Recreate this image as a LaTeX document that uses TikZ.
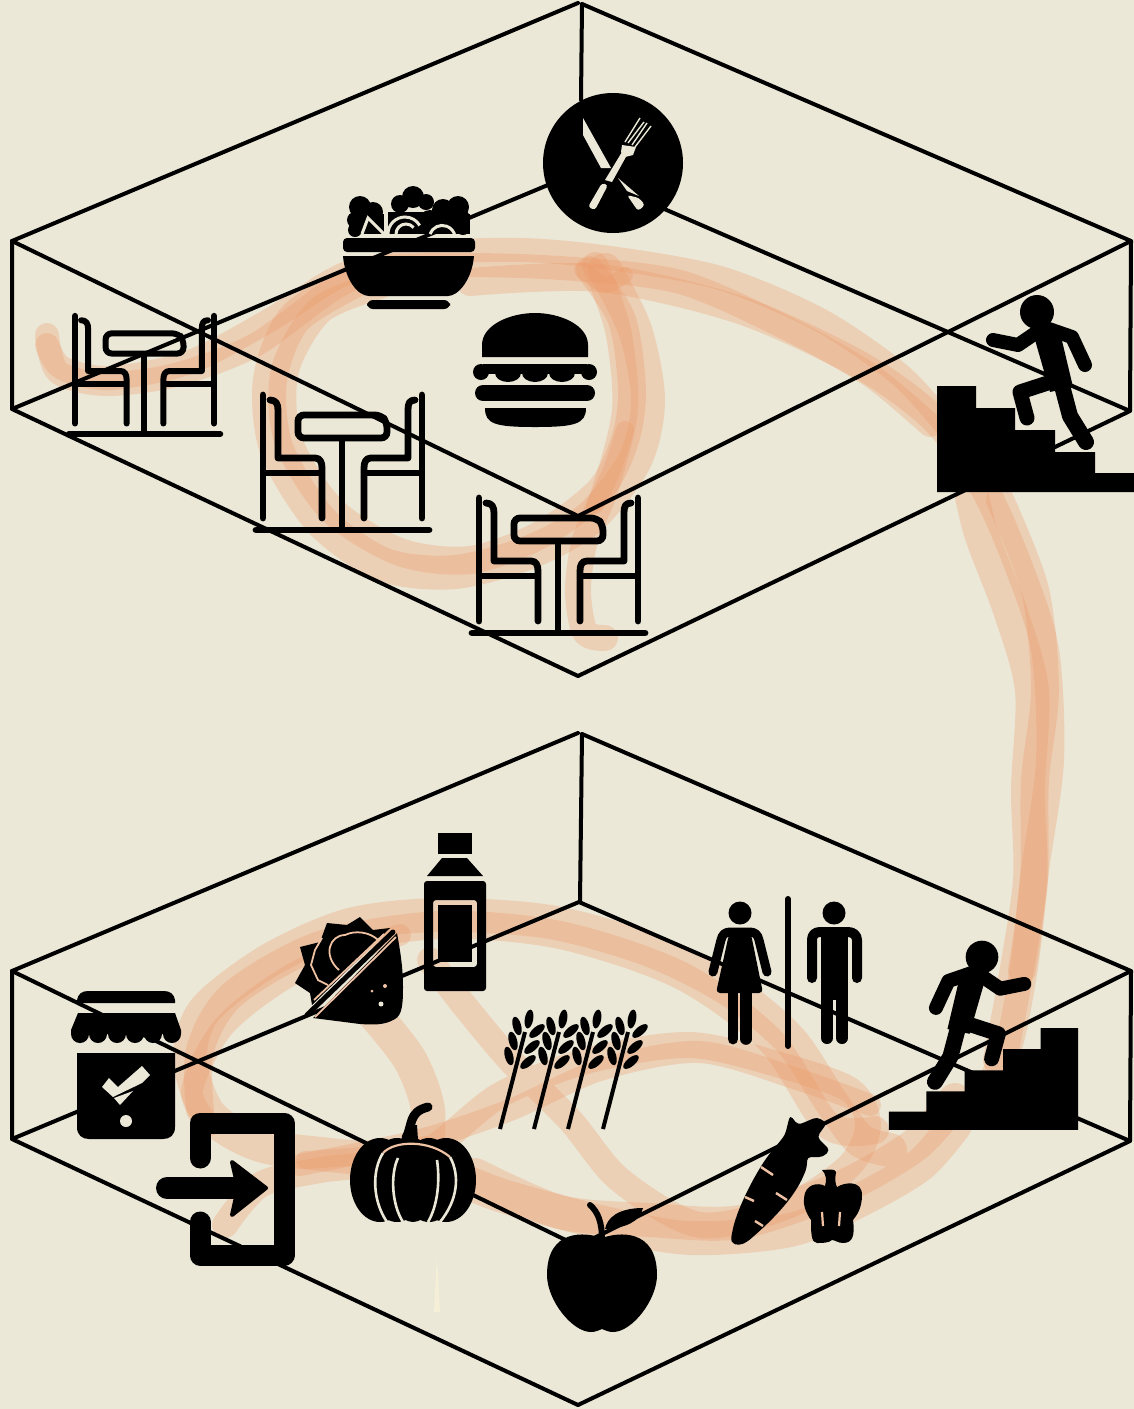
\documentclass[tikz,border=0pt]{standalone}
\definecolor{papercream}{HTML}{EBE8D8}
\definecolor{paintorange}{HTML}{EE9A68}
\definecolor{paleorange}{HTML}{EFC2A4}
\definecolor{palesliver}{HTML}{F5EFD8}
\tikzset{
  framelines/.style={line width=2pt, line cap=round, line join=round},
  paintstroke/.style={draw=paintorange, opacity=.3, line width=17pt, line cap=round, line join=round},
  orangecut/.style={draw=paleorange, line width=1.1pt, line cap=butt},
  creamcut/.style={draw=papercream, line width=1.3pt, line cap=butt},
  tableset/.pic={
    % Left chair
    \draw[line cap=round] (-80,-135) -- (-80,-12);
    \draw[line cap=round, line join=round] (-73,-130) .. controls (-67,-130) and (-65,-126) .. (-65,-120) -- (-65,-72) -- (-28,-72) .. controls (-23,-72) and (-21,-68) .. (-21,-62) -- (-21,-12);
    \draw (-80,-57) -- (-21,-57);
    % Right chair
    \draw[line cap=round] (79,-135) -- (79,-12);
    \draw[line cap=round, line join=round] (72,-130) .. controls (66,-130) and (65,-126) .. (65,-120) -- (65,-72) -- (28,-72) .. controls (23,-72) and (21,-68) .. (21,-62) -- (21,-12);
    \draw (79,-57) -- (21,-57);
    % Table
    \draw[rounded corners=3pt] (-45,-115) -- (38,-115) -- (44,-108) -- (44,-92) -- (-45,-92) -- cycle;
    \draw (-1,-92) -- (-1,0);
    \draw[line cap=round] (-87,0) -- (86,0);
  },
  stairrunner/.pic={
    % Stairs
    \fill (-100,74) -- (-61,74) -- (-61,96) -- (-22,96) -- (-22,118) -- (18,118) -- (18,140) -- (58,140) -- (58,161) -- (97,161) -- (97,180) -- (-100,180) -- cycle;
    % Runner
    \fill (0,0) circle (17);
    \fill (-6,14) -- (22,16) -- (36,75) -- (13,80) -- cycle;
    \draw[line width=7pt, line cap=round, line join=round] (-44,28) -- (-19,33) -- (3,18);
    \draw[line width=7pt, line cap=round, line join=round] (6,15) -- (35,25) -- (48,53);
    \draw[line width=7.5pt, line cap=round, line join=round] (20,68) -- (-17,80) -- (-10,106);
    \draw[line width=8pt, line cap=round, line join=round] (24,70) -- (33,104) -- (49,130);
  },
  wheatstalk/.pic={
    \draw[line width=2pt] (0,0) -- (25,-97);
    \foreach \gx/\gy/\ga in {29/-110/-10, 17/-103/15, 37/-98/-50, 13/-88/15, 32/-82/-50, 9/-73/15, 28/-67/-50}
      \fill[shift={(\gx,\gy)}, rotate=\ga] (0,0) ellipse (4.2 and 9.5);
  }
}
\begin{document}
\begin{tikzpicture}[x=.5pt,y=-.5pt]

  % Background
  \fill[papercream] (0,0) rectangle (1134,1409);
  \useasboundingbox (0,0) rectangle (1134,1409);

  % Paint trail, upper floor
  \draw[paintstroke, line width=12pt] plot[smooth] coordinates {(47,335) (58,372) (105,384) (175,375) (255,345) (340,285) (420,255) (520,250) (610,258) (720,278) (820,320) (900,375) (950,430)};
  \draw[paintstroke, line width=12pt] plot[smooth] coordinates {(47,345) (62,368) (110,378) (190,362) (270,320) (350,272) (440,265) (560,268) (680,282) (790,330) (870,375) (930,425)};
  \draw[paintstroke, line width=14pt] plot[smooth] coordinates {(470,282) (600,278) (740,310) (860,365) (935,420) (985,490) (1020,570) (1045,650) (1050,760) (1035,870) (1025,960) (1010,1040) (990,1085)};
  \draw[paintstroke] plot[smooth] coordinates {(965,460) (980,530) (1010,610) (1032,690) (1028,790) (1030,880) (1015,980) (1000,1060)};
  \draw[paintstroke, line width=14pt] plot[smooth] coordinates {(1000,500) (1035,590) (1045,690) (1035,780) (1034,880) (1022,970)};
  \draw[paintstroke] plot[smooth] coordinates {(360,278) (295,318) (270,380) (277,450) (322,522) (385,565) (455,572) (530,552) (590,518) (635,460) (648,400) (635,330) (605,270)};
  \draw[paintstroke, line width=14pt] plot[smooth] coordinates {(380,285) (320,310) (285,370) (288,440) (332,510) (400,552) (470,560) (540,535) (600,490) (625,440) (632,390) (622,320) (590,270)};
  \draw[paintstroke, line width=13pt] plot[smooth] coordinates {(595,265) (618,330) (625,410) (605,490) (585,540) (578,590) (585,632) (605,638)};
  \draw[paintstroke, line width=8pt] plot[smooth] coordinates {(582,270) (605,285) (625,275)};
  \draw[paintstroke, line width=9pt] plot[smooth] coordinates {(625,430) (612,470) (595,505)};

  % Paint trail, lower floor
  \draw[paintstroke] plot[smooth] coordinates {(955,1125) (920,1165) (860,1200) (790,1230) (690,1238) (600,1222) (500,1195) (420,1165) (330,1155) (260,1145) (210,1115) (190,1060) (205,1010) (270,960) (350,925) (440,915) (550,922) (650,950) (730,990) (790,1040) (830,1100) (860,1140) (890,1150)};
  \draw[paintstroke, line width=13pt] plot[smooth] coordinates {(225,1225) (260,1185) (320,1170) (420,1155) (500,1095) (590,1060) (690,1045) (780,1065) (850,1090) (868,1125) (850,1165) (790,1205) (700,1225) (620,1180) (570,1120) (510,1060) (460,1000) (430,960)};
  \draw[paintstroke] plot[smooth] coordinates {(375,1015) (410,1060) (428,1110) (425,1170)};
  \draw[paintstroke] plot[smooth] coordinates {(475,1175) (560,1212) (650,1220) (740,1222) (840,1188) (915,1145) (955,1100)};
  \draw[paintstroke, line width=14pt] plot[smooth] coordinates {(200,1110) (200,1050) (232,995) (320,945) (440,925) (560,935) (680,975) (770,1040) (828,1125) (875,1130)};
  \draw[paintstroke, line width=11pt] plot[smooth] coordinates {(300,1165) (420,1140) (510,1110) (600,1070) (700,1052) (800,1080) (870,1105)};
  \draw[paintstroke, line width=11pt] plot[smooth] coordinates {(210,1125) (192,1090) (225,1025) (300,970) (400,935)};
  \draw[paintstroke, line width=9pt] plot[smooth] coordinates {(305,1160) (370,1155) (425,1145)};

  % Pale sliver
  \fill[palesliver] (437,1255) -- (440,1312) -- (434,1312) -- cycle;

  % Upper room
  \draw[framelines] (12,241) -- (578,3);
  \draw[framelines] (582,4) -- (1131,241) -- (1130,411) -- (578,676) -- (12,409) -- (12,241);
  \draw[framelines] (582,4) -- (581,100);
  \draw[framelines] (12,241) -- (578,516) -- (1131,241);
  \draw[framelines] (12,409) -- (579,172) -- (1130,411);

  % Lower room
  \draw[framelines] (12,971) -- (578,733);
  \draw[framelines] (582,734) -- (1131,971) -- (1130,1141) -- (578,1405) -- (12,1139) -- (12,971);
  \draw[framelines] (582,734) -- (580,902);
  \draw[framelines] (12,971) -- (578,1246) -- (1131,971);
  \draw[framelines] (12,1139) -- (579,902) -- (1130,1141);

  % Tables
  \pic[line width=3pt, scale=.875] at (145,434) {tableset};
  \pic[line width=3.4pt] at (343,530) {tableset};
  \pic[line width=3.4pt] at (559,633) {tableset};

  % Stairs with runner
  \pic at (1037,312) {stairrunner};
  \pic[xscale=-.96, yscale=.96] at (982,957) {stairrunner};

  % Plate with knife and fork
  \fill (613,163) circle (70);
  \fill[papercream] (583,118) -- (583,135) -- (601,168) -- (611,168) -- cycle;
  \fill[papercream] (618,178) -- (639,196) -- (627,191) -- cycle;
  \fill[papercream, rounded corners=1.5pt] (627,195) -- (639,198) -- (645,205) -- (638,211) -- cycle;
  \fill[papercream, rounded corners=1.5pt] (602,183) -- (608,185) -- (595,210) -- (588,207) -- cycle;
  \fill[papercream] (605,180) -- (612,182) -- (627,155) -- (622,152) -- cycle;
  \fill[papercream] (622,145) -- (636,147) -- (633,155) -- (625,157) -- (621,152) -- cycle;
  \foreach \fa/\fb/\fc/\fd in {625/142/640/118, 628/143/644/122, 632/145/647/123, 635/147/651/126}
    \draw[papercream, line width=.7pt] (\fa,\fb) -- (\fc,\fd);

  % Salad bowl
  \foreach \sx/\sy/\sr in {360/207/11, 373/212/10, 355/220/8, 355/230/7, 413/197/11, 400/204/9, 426/202/8, 443/210/11, 458/207/11, 462/218/8, 463/228/7, 430/222/12}
    \fill (\sx,\sy) circle (\sr);
  \fill (349,214) rectangle (384,234);
  \fill (428,214) rectangle (470,234);
  \fill (388,212) -- (428,212) -- (428,234) -- (388,234) -- cycle;
  \draw[papercream, line width=1.5pt] (362,234) -- (368,218) -- (384,234);
  \draw[papercream, line width=1.5pt] (388,234) arc[start angle=180, end angle=330, radius=17];
  \draw[papercream, line width=1.5pt] (396,234) arc[start angle=180, end angle=320, radius=10];
  \draw[papercream, line width=1.5pt] (430,234) arc[start angle=200, end angle=350, radius=13];
  \fill[rounded corners=2pt] (343,238) rectangle (475,252);
  \fill (343,256) -- (474,256) .. controls (472,280) and (458,296) .. (448,296) -- (369,296) .. controls (358,296) and (345,280) .. (343,256) -- cycle;
  \fill[rounded corners=3pt] (367,300) -- (450,300) -- (450,309) -- (367,309) -- cycle;

  % Burger
  \fill (482,357) -- (482,345) .. controls (482,325) and (510,313) .. (535,313) .. controls (560,313) and (588,325) .. (588,345) -- (588,357) -- cycle;
  \fill (483,364) rectangle (587,374);
  \fill (481,372) circle (8);
  \fill (589,372) circle (8);
  \foreach \bx in {508,535,562}
    \fill (\bx,373) ellipse (13 and 9);
  \draw[line width=8pt, line cap=round] (483,393) -- (587,393);
  \fill (485,408) -- (586,408) .. controls (586,424) and (575,427) .. (535,427) .. controls (495,427) and (485,424) .. (485,408) -- cycle;

  % Bottle
  \fill (438,833) rectangle (472,854);
  \fill (442,858) -- (467,858) -- (483,876) -- (427,876) -- cycle;
  \fill[even odd rule, rounded corners=1.5pt] (424,881) -- (486,881) -- (486,991) -- (424,991) -- cycle (433,900) -- (477,900) -- (477,967) -- (433,967) -- cycle;
  \fill (438,905) rectangle (472,962);

  % Jar
  \fill (77,1003) -- (77,1000) .. controls (78,994) and (82,991) .. (88,991) -- (164,991) .. controls (170,991) and (174,994) .. (175,1000) -- (175,1003) -- cycle;
  \fill (78,1013) -- (175,1013) -- (181,1030) -- (181,1034) -- (71,1034) -- (71,1030) -- cycle;
  \foreach \jx in {80,98,117,135,153,172}
    \fill (\jx,1034) circle (9);
  \fill (77,1053) -- (175,1053) -- (175,1127) .. controls (175,1135) and (170,1139) .. (163,1139) -- (89,1139) .. controls (82,1139) and (77,1135) .. (77,1127) -- cycle;
  \fill[papercream] (102,1087) -- (109,1078) -- (118,1087) -- (142,1066) -- (150,1075) -- (142,1083) -- (113,1097) -- cycle;
  \fill[papercream] (114,1098) -- (133,1091) -- (120,1105) -- cycle;
  \fill[papercream] (126,1121) circle (6);

  % Entrance door
  \draw[line width=10.5pt, line cap=round, line join=round] (200,1158) -- (200,1123) -- (284,1123) -- (284,1255) -- (200,1255) -- (200,1222);
  \draw[line width=11pt, line cap=round] (167,1188) -- (235,1188);
  \fill[line join=round, draw, line width=2pt] (232,1162) -- (266,1188) -- (232,1215) -- (238,1188) -- cycle;

  % Taco
  \fill (390,928) -- (373,930) -- (360,917) -- (347,925) -- (327,923) -- (320,942) -- (300,947) -- (305,965) -- (295,983) -- (310,993) -- (312,1005) -- cycle;
  \fill (397,933) .. controls (401,955) and (403,970) .. (403,987) .. controls (403,1005) and (402,1015) .. (395,1019) .. controls (385,1025) and (375,1025) .. (360,1024) -- (313,1018) -- cycle;
  \draw[line width=2.5pt, line cap=round] (393,932) -- (307,1015);
  \draw[orangecut, line width=.9pt] (396,937) -- (315,1017);
  \draw[orangecut, line width=.9pt] (384,934) -- (314,1000);
  \draw[orangecut, line width=.9pt] (339,970) .. controls (322,955) and (330,935) .. (345,935) .. controls (355,930) and (370,932) .. (378,940);
  \draw[orangecut, line width=.9pt] (322,938) -- (315,950) -- (311,965) -- (318,980) -- (328,985);
  \fill[papercream] (381,1004) circle (2.5);
  \fill[paleorange] (385,986) circle (2);
  \fill[paleorange] (372,991) circle (1.5);

  % Pumpkin
  \fill (380,1180) ellipse (30 and 42);
  \fill (446,1180) ellipse (30 and 42);
  \fill (397,1180) ellipse (28 and 42);
  \fill (429,1180) ellipse (28 and 42);
  \fill (413,1180) ellipse (24 and 42);
  \draw[line width=4.5pt, line cap=round] (406,1138) .. controls (413,1125) and (408,1112) .. (428,1107);
  \fill (401,1140) -- (408,1125) -- (417,1125) -- (418,1140) -- cycle;
  \draw[creamcut] (383,1153) .. controls (372,1170) and (372,1200) .. (387,1222);
  \draw[creamcut] (398,1158) .. controls (390,1175) and (392,1205) .. (403,1222);
  \draw[creamcut] (437,1160) .. controls (440,1180) and (438,1205) .. (428,1222);
  \draw[creamcut] (450,1157) .. controls (460,1175) and (458,1200) .. (440,1222);
  \draw[orangecut] (383,1153) .. controls (395,1140) and (430,1140) .. (450,1157);

  % Wheat
  \foreach \wx in {500,534,568,603}
    \pic at (\wx,1129) {wheatstalk};

  % Restroom sign
  \fill (740,913) circle (11.5);
  \draw[line width=4.5pt, line cap=round, line join=round] (713,972) -- (721,940) .. controls (722,935) and (725,932) .. (730,932) -- (750,932) .. controls (755,932) and (758,935) .. (759,940) -- (767,972);
  \fill[rounded corners=2pt] (729,934) -- (751,934) -- (763,993) -- (716,993) -- cycle;
  \draw[line width=5.4pt, line cap=round] (733,990) -- (733,1039);
  \draw[line width=5.8pt, line cap=round] (746,990) -- (746,1039);
  \draw[line width=3pt, line cap=round] (788,899) -- (788,1046);
  \fill (834,913) circle (11.5);
  \draw[line width=5pt, line cap=round, line join=round] (812,978) -- (812,940) .. controls (812,935) and (815,932) .. (820,932) -- (848,932) .. controls (853,932) and (857,935) .. (857,940) -- (857,978);
  \fill (821,932) rectangle (848,1000);
  \draw[line width=6pt, line cap=round] (827,995) -- (827,1038);
  \draw[line width=6pt, line cap=round] (842,995) -- (842,1038);

  % Carrot
  \fill[rounded corners=2pt] (785,1135) -- (790,1115) -- (798,1125) -- (817,1117) -- (827,1123) -- (817,1137) -- (830,1150) -- (823,1157) -- (807,1157) -- (807,1167) .. controls (800,1185) and (790,1205) .. (747,1242) .. controls (738,1246) and (730,1245) .. (732,1233) .. controls (738,1205) and (760,1165) .. (773,1150) -- cycle;
  \draw[orangecut, line width=1.2pt] (761,1167) -- (773,1175);
  \draw[orangecut, line width=1.2pt] (776,1193) -- (787,1200);
  \draw[orangecut, line width=1.2pt] (745,1197) -- (754,1201);
  \draw[orangecut, line width=1.2pt] (755,1221) -- (763,1226);

  % Pepper
  \fill (825,1186) .. controls (827,1180) and (826,1174) .. (822,1170) .. controls (828,1170) and (835,1168) .. (836,1172) .. controls (835,1178) and (835,1184) .. (837,1187) .. controls (845,1182) and (862,1180) .. (862,1195) .. controls (862,1208) and (857,1215) .. (853,1220) .. controls (855,1235) and (853,1243) .. (843,1243) .. controls (838,1243) and (835,1240) .. (832,1240) .. controls (829,1243) and (822,1243) .. (817,1243) .. controls (811,1243) and (811,1232) .. (811,1220) .. controls (806,1213) and (803,1205) .. (804,1198) .. controls (805,1184) and (818,1182) .. (825,1186) -- cycle;
  \draw[orangecut] (822,1212) -- (823,1226);
  \draw[orangecut] (840,1212) -- (839,1226);

  % Apple
  \fill (602,1238) .. controls (618,1232) and (657,1228) .. (657,1275) .. controls (657,1300) and (632,1332) .. (613,1332) .. controls (608,1332) and (605,1330) .. (602,1329) .. controls (599,1330) and (596,1332) .. (591,1332) .. controls (572,1332) and (547,1300) .. (547,1275) .. controls (547,1228) and (586,1232) .. (602,1238) -- cycle;
  \draw[line width=3pt, line cap=round] (590,1205) .. controls (598,1212) and (602,1222) .. (602,1240);
  \fill (605,1229) .. controls (607,1218) and (618,1208) .. (643,1208) .. controls (640,1222) and (625,1228) .. (605,1229) -- cycle;

\end{tikzpicture}
\end{document}
